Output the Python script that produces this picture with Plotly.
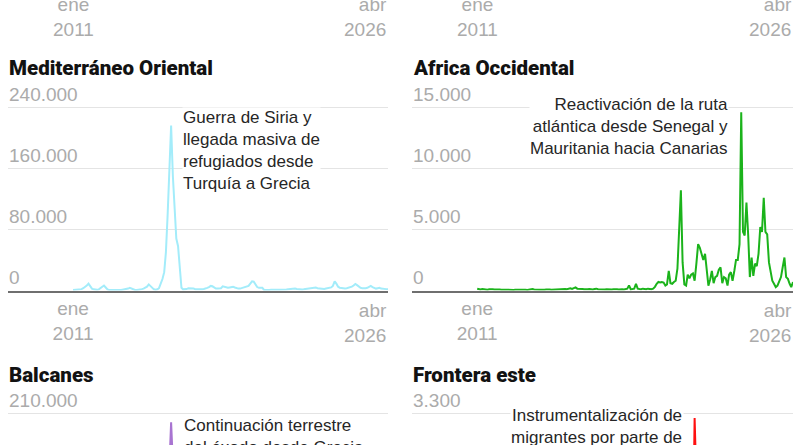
import pandas as pd
import plotly.graph_objects as go

# monthly series, ene 2011 - abr 2026
months = pd.date_range("2011-01-01", "2026-04-01", freq="MS")

med_oriental = [
    700, 800, 900, 1000, 1200, 1800, 3000, 4500, 6500, 9000, 6000, 2500,        # 2011
    1500, 1000, 900, 1500, 3000, 5500, 6500, 4000, 1500, 800, 600, 500,         # 2012
    400, 400, 500, 600, 700, 900, 1200, 1800, 2500, 3500, 2500, 1200,           # 2013
    700, 600, 800, 1200, 1800, 2500, 3500, 5000, 8000, 6000, 3000, 1500,        # 2014
    1000, 1500, 3000, 8000, 15000, 24000, 50000, 100000, 155000, 216000, 150000, 105000,  # 2015
    68000, 58000, 27000, 3500, 1500, 1500, 1900, 3000, 3000, 2500, 2500, 1800,  # 2016
    1500, 1200, 1500, 1500, 2000, 2500, 3500, 4500, 6000, 5500, 3500, 2500,     # 2017
    2500, 2500, 3000, 5500, 4500, 3500, 3500, 4000, 4500, 5000, 4000, 3000,     # 2018
    2500, 2500, 3000, 3500, 4000, 4500, 6000, 9000, 12000, 11500, 8000, 4500,   # 2019
    3500, 3000, 3500, 800, 600, 700, 800, 1000, 1200, 1500, 1200, 1000,         # 2020
    1000, 800, 900, 1000, 1200, 1500, 1800, 2000, 2500, 2500, 2000, 1500,       # 2021
    1500, 1300, 1500, 2000, 2500, 3000, 3500, 3500, 4500, 4000, 3000, 2500,     # 2022
    2000, 1800, 2000, 2500, 3000, 3500, 4000, 6000, 12000, 9000, 5000, 3500,    # 2023
    3000, 2500, 2500, 3000, 3500, 4000, 5000, 6500, 8500, 7000, 5000, 3500,     # 2024
    3000, 2800, 3000, 3500, 4500, 6000, 4500, 3000, 2500, 3000, 3500, 2500,     # 2025
    2500, 2000, 1800, 1500,                                                     # 2026
]

africa_occidental = [
    150, 100, 80, 120, 100, 80, 60, 100, 120, 100, 80, 100,                     # 2011
    60, 80, 60, 50, 70, 60, 80, 70, 60, 50, 60, 70,                             # 2012
    60, 50, 70, 80, 60, 50, 80, 100, 120, 80, 60, 80,                           # 2013
    60, 70, 50, 60, 80, 100, 80, 60, 70, 90, 120, 80,                           # 2014
    100, 120, 150, 120, 100, 150, 180, 120, 200, 250, 150, 120,                 # 2015
    100, 120, 100, 80, 100, 120, 100, 80, 120, 150, 100, 80,                    # 2016
    80, 60, 80, 100, 80, 60, 80, 100, 120, 100, 80, 120,                        # 2017
    100, 80, 120, 150, 420, 100, 120, 150, 550, 150, 120, 100,                  # 2018
    150, 120, 100, 150, 100, 100, 150, 300, 550, 700, 650, 700,                 # 2019
    650, 400, 500, 1600, 600, 550, 700, 800, 1800, 5000, 8200, 2300,            # 2020
    500, 400, 1300, 1000, 1300, 1400, 800, 2200, 3800, 3500, 3000, 2500,        # 2021
    3000, 1400, 400, 900, 1600, 600, 1100, 1200, 1700, 1900, 600, 1100,         # 2022
    1000, 400, 1300, 1500, 800, 1600, 2500, 2500, 3800, 14600, 4800, 4500,      # 2023
    7200, 4500, 1100, 2700, 1200, 2200, 2000, 3000, 5200, 4800, 7600, 4800,     # 2024
    4600, 2300, 1600, 800, 550, 270, 400, 700, 1100, 1900, 2700, 1100,          # 2025
    950, 550, 270, 700,                                                         # 2026
]

# only the tops of the lower panels are in view
balcanes_fechas = ["2015-06-01", "2015-07-01", "2015-08-01", "2015-09-01", "2015-10-01",
                   "2015-11-01", "2015-12-01", "2016-01-01"]
balcanes = [20000, 45000, 100000, 150000, 200000, 150000, 110000, 60000]

frontera_fechas = ["2021-04-01", "2021-05-01", "2021-06-01", "2021-07-01", "2021-08-01",
                   "2021-09-01", "2021-10-01"]
frontera_este = [150, 300, 1000, 3220, 1500, 900, 1200]

panel_titulos = ["Mediterráneo Oriental", "Africa Occidental", "Balcanes", "Frontera este"]
panel_colores = ["#a3ecfa", "#1bb31b", "#a874d1", "#ff1010"]
y_ticks_med = [0, 80000, 160000, 240000]
y_ticks_afr = [0, 5000, 10000, 15000]
y_ticks_bal = [0, 70000, 140000, 210000]
y_ticks_fro = [0, 1100, 2200, 3300]
x_tick_ini = "2011-01-01"
x_text_ini = "ene<br>2011"
x_tick_fin = "2026-04-01"
x_text_fin = "abr<br>2026"

notas = [
    "Guerra de Siria y<br>llegada masiva de<br>refugiados desde<br>Turquía a Grecia",
    "Reactivación de la ruta<br>atlántica desde Senegal y<br>Mauritania hacia Canarias",
    "Continuación terrestre<br>del éxodo desde Grecia<br>hacia Europa central",
    "Instrumentalización de<br>migrantes por parte de<br>Bielorrusia",
]

# ---- geometry (pixels) ----
W, H = 800, 445
ML, MR = 8, 7
PW = W - ML - MR


def fx(p):
    return (p - ML) / PW


def fy(p):
    return (H - p) / H


LEFT = [fx(8), fx(388)]
RIGHT = [fx(412), 1.0]
ZERO_PX = 290.5
TOPGRID_PX = 107.3
FULL_PX = ZERO_PX - TOPGRID_PX      # height of one full panel
PAD = 2                             # keep the top gridline off the plot edge
BOT_TOP = 413.5
ROW = BOT_TOP - TOPGRID_PX          # distance between rows
MID = [fy(ZERO_PX), fy(TOPGRID_PX - PAD)]
BOT = [0.0, fy(BOT_TOP - PAD)]

# x range: data starts 65 px into a 380 px wide panel
d0 = pd.Timestamp(x_tick_ini)
d1 = pd.Timestamp(x_tick_fin)
x_start = d0 - (d1 - d0) * (65 / 315)
x_range = [x_start.strftime("%Y-%m-%d"), d1.strftime("%Y-%m-%d")]

GRID = "#e4e4e4"
AXIS = "#6f6f6f"
TICK = "#ababab"
TICKFONT_Y = dict(family="Liberation Sans, Arial, sans-serif", size=19, color=TICK)
TICKFONT_X = dict(family="Liberation Sans, Arial, sans-serif", size=19, color=TICK)

fig = go.Figure()

fig.add_trace(go.Scatter(x=months, y=med_oriental, mode="lines", xaxis="x", yaxis="y",
                         line=dict(color=panel_colores[0], width=2), hoverinfo="skip"))
fig.add_trace(go.Scatter(x=months, y=africa_occidental, mode="lines", xaxis="x2", yaxis="y2",
                         line=dict(color=panel_colores[1], width=2), hoverinfo="skip"))
fig.add_trace(go.Scatter(x=balcanes_fechas, y=balcanes, mode="lines", xaxis="x3", yaxis="y3",
                         line=dict(color=panel_colores[2], width=2), hoverinfo="skip"))
fig.add_trace(go.Scatter(x=frontera_fechas, y=frontera_este, mode="lines", xaxis="x4", yaxis="y4",
                         line=dict(color=panel_colores[3], width=2), hoverinfo="skip"))


def xaxis(domain, anchor, labels=True, line=True):
    return dict(domain=domain, anchor=anchor, type="date", range=x_range, automargin=False,
                showgrid=False, zeroline=False, showline=line, linecolor=AXIS, linewidth=2,
                ticks="", tickmode="array", tickvals=[x_tick_ini], ticktext=[x_text_ini],
                showticklabels=labels, tickfont=TICKFONT_X)


def yaxis(domain, anchor, top, span_px, ticks):
    # same px-per-unit scale in every panel; the top gridline sits PAD px below the edge
    hi = top * (FULL_PX + PAD) / FULL_PX
    lo = hi - top * span_px / FULL_PX
    return dict(domain=domain, anchor=anchor, range=[lo, hi], automargin=False,
                showgrid=True, gridcolor=GRID, gridwidth=1, zeroline=False, showline=False,
                ticks="", tickmode="array", tickvals=ticks, ticklabelstandoff=-2,
                ticklabelposition="inside top", ticklabeloverflow="allow",
                tickfont=TICKFONT_Y, tickformat=",d")


MID_SPAN = ZERO_PX - (TOPGRID_PX - PAD)
BOT_SPAN = H - (BOT_TOP - PAD)

fig.update_layout(
    xaxis=xaxis(LEFT, "y"),
    yaxis=yaxis(MID, "x", y_ticks_med[-1], MID_SPAN, y_ticks_med),
    xaxis2=xaxis(RIGHT, "y2"),
    yaxis2=yaxis(MID, "x2", y_ticks_afr[-1], MID_SPAN, y_ticks_afr),
    xaxis3=xaxis(LEFT, "y3", labels=False, line=False),
    yaxis3=yaxis(BOT, "x3", y_ticks_bal[-1], BOT_SPAN, y_ticks_bal),
    xaxis4=xaxis(RIGHT, "y4", labels=False, line=False),
    yaxis4=yaxis(BOT, "x4", y_ticks_fro[-1], BOT_SPAN, y_ticks_fro),
)

# date labels of the row above (its axis lies above the picture) and the
# right-aligned closing labels, placed on the panels' own date scales
LABEL_TOP = ZERO_PX + 8.5
for xr in ["x", "x2"]:
    fig.add_annotation(x=x_tick_ini, xref=xr, y=fy(LABEL_TOP - ROW), yref="paper",
                       text=x_text_ini, showarrow=False, xanchor="center", yanchor="top",
                       borderpad=0, font=TICKFONT_X)
    for shift in [-ROW, 0]:
        fig.add_annotation(x=x_tick_fin, xref=xr, y=fy(LABEL_TOP + shift), yref="paper",
                           text=x_text_fin, showarrow=False, xanchor="right", yanchor="top",
                           align="right", borderpad=0, font=TICKFONT_X)

# panel titles
title_pos = [(fx(8), fy(68)), (fx(412), fy(68)), (fx(8), fy(375)), (fx(412), fy(375))]
for txt, (tx, ty) in zip(panel_titulos, title_pos):
    fig.add_annotation(x=tx, y=ty, xref="paper", yref="paper", text=txt, showarrow=False,
                       xanchor="left", yanchor="middle", borderpad=0,
                       font=dict(family="Roboto, Liberation Sans, sans-serif", size=20.5,
                                 color="#121212", weight=900))

# notes
note_pos = [
    (fx(182), fy(107), "left"),
    (fx(729), fy(94), "right"),
    (fx(183), fy(415), "left"),
    (fx(684), fy(405), "right"),
]
for txt, (nx, ny, anc) in zip(notas, note_pos):
    fig.add_annotation(x=nx, y=ny, xref="paper", yref="paper", text=txt, showarrow=False,
                       xanchor=anc, yanchor="top", align=anc, bgcolor="white", borderpad=0,
                       font=dict(family="Liberation Sans, Arial, sans-serif", size=17,
                                 color="#262626"))

fig.update_layout(
    width=W, height=H,
    margin=dict(l=ML, r=MR, t=0, b=0, autoexpand=False),
    paper_bgcolor="white", plot_bgcolor="white",
    showlegend=False,
    separators=",.",
)

fig.write_html("out.html", config={"displayModeBar": False},
               post_script="document.body.style.margin='0';")
